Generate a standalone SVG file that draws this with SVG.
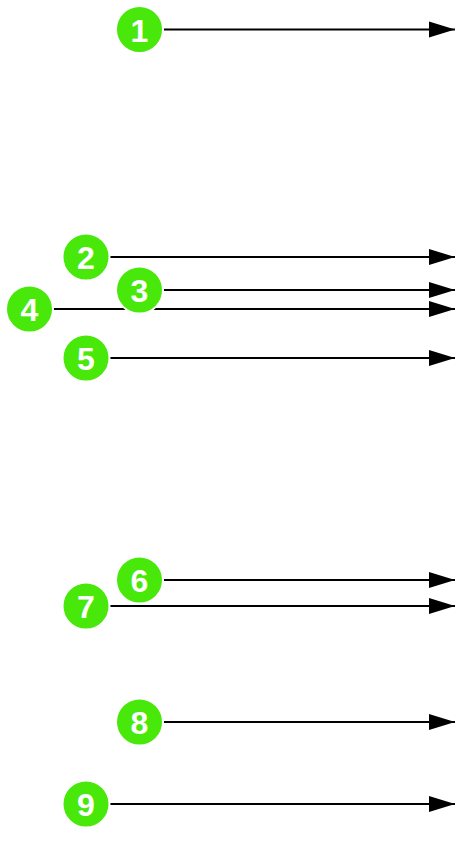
<svg xmlns="http://www.w3.org/2000/svg" width="456" height="867" viewBox="0 0 456 867">
<defs>
<marker id="arr" markerUnits="userSpaceOnUse" markerWidth="28" markerHeight="20" refX="26" refY="9" orient="auto">
<path d="M0,1 L26,9 L0,17 Z" fill="#000"/>
</marker>
<style>
.c line{stroke:#000;stroke-width:2;marker-end:url(#arr)}
.n circle{fill:#48e80a;stroke:#fff;stroke-width:2}
.n text{fill:#fff;font-family:"Liberation Sans",Arial,sans-serif;font-weight:bold;font-size:32px;text-anchor:middle;dominant-baseline:central}
</style>
</defs>
<rect width="456" height="867" fill="#fff"/>
<g id="connectors" class="c">
<line x1="162" y1="29.5" x2="455" y2="29.5"/>
<line x1="109" y1="257" x2="455" y2="257"/>
<line x1="162" y1="290" x2="455" y2="290"/>
<line x1="52" y1="309" x2="455" y2="309"/>
<line x1="109" y1="358" x2="455" y2="358"/>
<line x1="162" y1="580" x2="455" y2="580"/>
<line x1="109" y1="606" x2="455" y2="606"/>
<line x1="162" y1="722" x2="455" y2="722"/>
<line x1="109" y1="804" x2="455" y2="804"/>
</g>
<g id="n1" class="n"><circle cx="139.5" cy="29.5" r="23.5"/><text x="139.5" y="30.5">1</text></g>
<g id="n2" class="n"><circle cx="86" cy="257" r="23.5"/><text x="86" y="258">2</text></g>
<g id="n4" class="n"><circle cx="29.5" cy="309" r="23.5"/><text x="29.5" y="310">4</text></g>
<g id="n3" class="n"><circle cx="139.5" cy="290" r="23.5"/><text x="139.5" y="291">3</text></g>
<g id="n5" class="n"><circle cx="86" cy="358" r="23.5"/><text x="86" y="359">5</text></g>
<g id="n6" class="n"><circle cx="139.5" cy="580" r="23.5"/><text x="139.5" y="581">6</text></g>
<g id="n7" class="n"><circle cx="86" cy="606" r="23.5"/><text x="86" y="607">7</text></g>
<g id="n8" class="n"><circle cx="139.5" cy="722" r="23.5"/><text x="139.5" y="723">8</text></g>
<g id="n9" class="n"><circle cx="86" cy="804" r="23.5"/><text x="86" y="805">9</text></g>
</svg>
